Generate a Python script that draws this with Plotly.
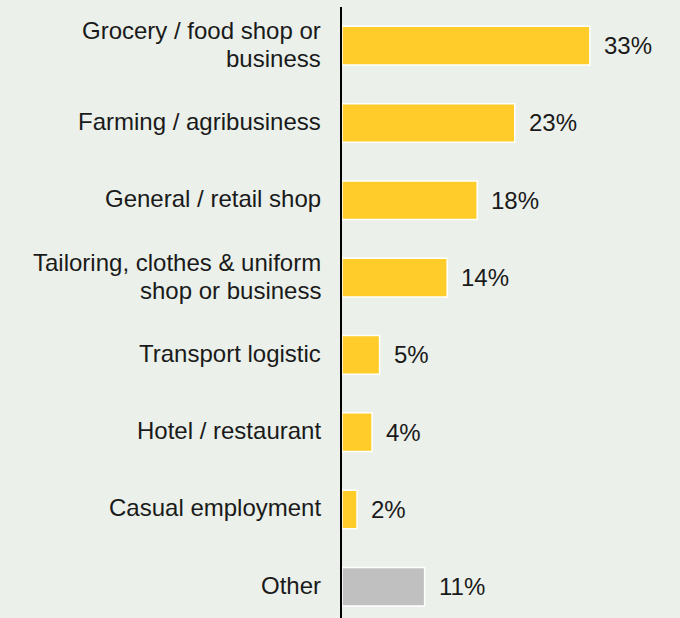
import plotly.graph_objects as go

# Business categories and share of respondents (%)
categories = [
    "Grocery / food shop or<br>business",
    "Farming / agribusiness",
    "General / retail shop",
    "Tailoring, clothes & uniform<br>shop or business",
    "Transport logistic",
    "Hotel / restaurant",
    "Casual employment",
    "Other",
]
values = [33, 23, 18, 14, 5, 4, 2, 11]
value_labels = ["33%", "23%", "18%", "14%", "5%", "4%", "2%", "11%"]

YELLOW = "#ffcc29"
GREY = "#c0c0c0"
BG = "#ebf0ea"
TEXT = "#1a1a1a"
FONT_SIZE = 24
LINE_GAP = 28  # px between lines of a wrapped category label

bar_colors = [GREY if c == "Other" else YELLOW for c in categories]

fig = go.Figure(
    go.Bar(
        x=values,
        y=categories,
        orientation="h",
        width=0.5,
        marker=dict(color=bar_colors, line=dict(color="white", width=1.5)),
        hoverinfo="skip",
    )
)

# Category labels, right-aligned left of the axis, with tight line spacing
for cat in categories:
    lines = cat.split("<br>")
    n = len(lines)
    for i, line in enumerate(lines):
        offset = ((n - 1) / 2 - i) * LINE_GAP + 1.5
        fig.add_annotation(
            xref="paper", x=0, y=cat, text=line, showarrow=False,
            xanchor="right", yanchor="middle", xshift=-19, yshift=offset,
            font=dict(size=FONT_SIZE, color=TEXT),
        )

# Value labels at the end of each bar
for cat, val, lab in zip(categories, values, value_labels):
    fig.add_annotation(
        x=val, y=cat, text=lab, showarrow=False,
        xanchor="left", yanchor="middle", xshift=12,
        font=dict(size=FONT_SIZE, color=TEXT),
    )

fig.update_layout(
    width=680,
    height=618,
    margin=dict(l=342, r=0, t=7, b=0),
    paper_bgcolor=BG,
    plot_bgcolor=BG,
    font=dict(family="Liberation Sans, Arial, sans-serif", size=FONT_SIZE, color=TEXT),
    showlegend=False,
    xaxis=dict(
        range=[0, 45],
        visible=False,
        showgrid=False,
        zeroline=False,
    ),
    yaxis=dict(
        categoryorder="array",
        categoryarray=categories,
        range=[7.404, -0.5],
        showgrid=False,
        zeroline=False,
        showline=True,
        linecolor="black",
        linewidth=2,
        ticks="",
        showticklabels=False,
    ),
)

fig.write_html("out.html")
